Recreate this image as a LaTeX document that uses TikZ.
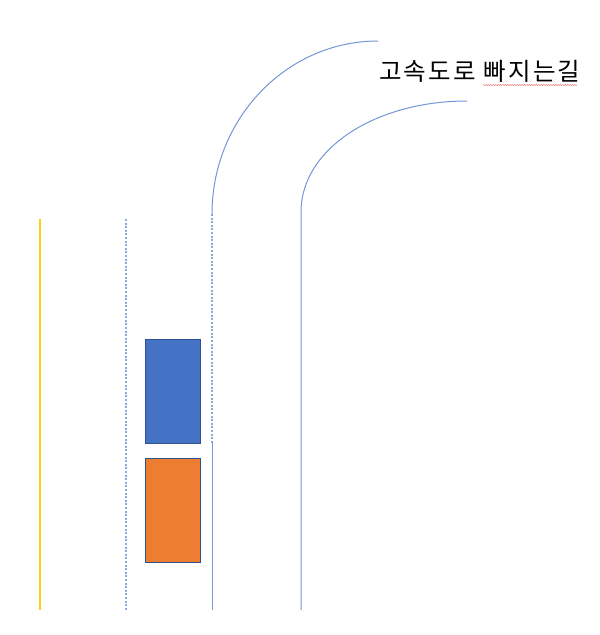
\documentclass[tikz,border=0pt]{standalone}
\usepackage{fontspec}
\newfontfamily\krfont[LetterSpace=9]{Noto Sans CJK KR}
\usetikzlibrary{decorations.pathmorphing}
\definecolor{roadblue}{HTML}{7596D8}
\definecolor{laneyellow}{HTML}{FFCC1A}
\definecolor{carblue}{HTML}{4472C4}
\definecolor{carorange}{HTML}{ED7D31}
\definecolor{carborder}{HTML}{2F528F}
\definecolor{spellred}{HTML}{F08080}
\tikzset{
  road/.style={draw=roadblue, line width=1pt},
  lanedash/.style={draw=roadblue!85, line width=1.3pt, dash pattern=on 2pt off 1.6pt},
  car/.style={draw=carborder, line width=1.2pt, minimum width=55pt, minimum height=104pt, inner sep=0pt, anchor=north west},
}
\begin{document}
\begin{tikzpicture}[x=1pt,y=-1pt]
\useasboundingbox (0,0) rectangle (600,635);
\fill[white] (0,0) rectangle (600,635);
% coordinates
\coordinate (ytop) at (40,219);
\coordinate (ybot) at (40,610);
\coordinate (dtop) at (126,219);
\coordinate (dbot) at (126,610);
\coordinate (mtop) at (212,214);
\coordinate (mmid) at (212,443);
\coordinate (mbot) at (212,610);
\coordinate (oend) at (378,41);
\coordinate (itop) at (301,212);
\coordinate (ibot) at (301,610);
\coordinate (iend) at (467,101);
% yellow edge line
\draw[laneyellow, line width=1.4pt] (ytop) -- (ybot);
% dotted lane line
\draw[lanedash] (dtop) -- (dbot);
% middle line: dashed then solid
\draw[lanedash] (mtop) -- (mmid);
\draw[road] (mmid) -- (mbot);
% outer exit curve
\draw[road] (mtop) .. controls (212,118.9) and (286.3,41) .. (oend);
% inner exit curve and line
\draw[road] (ibot) -- (itop) .. controls (301,149) and (375.3,101) .. (iend);
% cars
\node[car, fill=carblue] (bluecar) at (145,339) {};
\node[car, fill=carorange] (orangecar) at (145,458) {};
% label
\node[anchor=base west, inner sep=0pt, font=\krfont\fontsize{24.5}{28}\selectfont] (label) at (379,80) {고속도로 빠지는길};
\draw[spellred, line width=0.5pt, decorate, decoration={snake, amplitude=0.6pt, segment length=2.4pt}] (483,85) -- (577,85);
\end{tikzpicture}
\end{document}
